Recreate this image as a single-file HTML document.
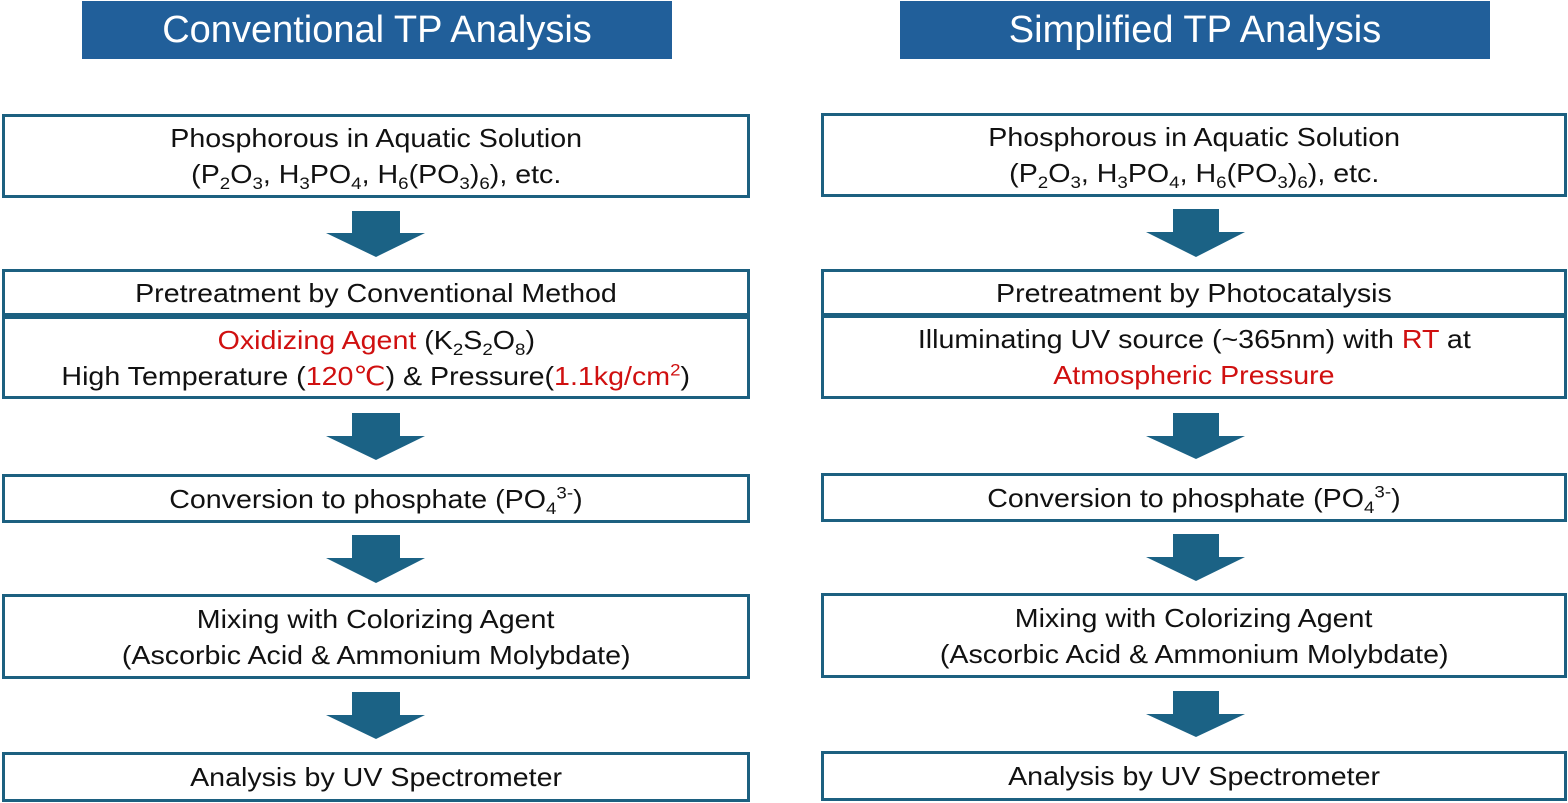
<!DOCTYPE html>
<html><head><meta charset="utf-8"><style>
body{margin:0;width:1568px;height:803px;background:#fff;position:relative;overflow:hidden;font-family:"Liberation Sans",Arial,sans-serif;}
.h{position:absolute;background:#215f9a;color:#fff;font-size:38px;display:flex;align-items:center;justify-content:center;}
.b{position:absolute;box-sizing:border-box;border:3px solid #1c6080;display:flex;flex-direction:column;align-items:center;justify-content:center;font-size:26px;line-height:36px;color:#111;text-align:center;}
.b>div{transform:scaleX(1.1);white-space:nowrap}
.r{color:#d01010}
sub,sup{font-size:17px;line-height:0}
svg{position:absolute;left:0;top:0}
</style></head><body>
<div class="h" style="left:82px;top:1px;width:590px;height:58px">Conventional TP Analysis</div>
<div class="h" style="left:900px;top:1px;width:590px;height:58px">Simplified TP Analysis</div>

<div class="b" style="left:2px;top:114px;width:748px;height:84px"><div>Phosphorous in Aquatic Solution</div><div>(P<sub>2</sub>O<sub>3</sub>, H<sub>3</sub>PO<sub>4</sub>, H<sub>6</sub>(PO<sub>3</sub>)<sub>6</sub>), etc.</div></div>
<div class="b" style="left:2px;top:269px;width:748px;height:47px"><div>Pretreatment by Conventional Method</div></div>
<div class="b" style="left:2px;top:316px;width:748px;height:83px"><div><span class="r">Oxidizing Agent</span> (K<sub>2</sub>S<sub>2</sub>O<sub>8</sub>)</div><div>High Temperature (<span class="r">120℃</span>) &amp; Pressure(<span class="r">1.1kg/cm<sup>2</sup></span>)</div></div>
<div class="b" style="left:2px;top:474px;width:748px;height:49px"><div>Conversion to phosphate (PO<sub>4</sub><sup>3-</sup>)</div></div>
<div class="b" style="left:2px;top:594px;width:748px;height:85px"><div>Mixing with Colorizing Agent</div><div>(Ascorbic Acid &amp; Ammonium Molybdate)</div></div>
<div class="b" style="left:2px;top:752px;width:748px;height:50px"><div>Analysis by UV Spectrometer</div></div>

<div class="b" style="left:821px;top:113px;width:746px;height:84px"><div>Phosphorous in Aquatic Solution</div><div>(P<sub>2</sub>O<sub>3</sub>, H<sub>3</sub>PO<sub>4</sub>, H<sub>6</sub>(PO<sub>3</sub>)<sub>6</sub>), etc.</div></div>
<div class="b" style="left:821px;top:269px;width:746px;height:47px"><div>Pretreatment by Photocatalysis</div></div>
<div class="b" style="left:821px;top:315px;width:746px;height:84px"><div>Illuminating UV source (~365nm) with <span class="r">RT</span> at</div><div class="r">Atmospheric Pressure</div></div>
<div class="b" style="left:821px;top:473px;width:746px;height:49px"><div>Conversion to phosphate (PO<sub>4</sub><sup>3-</sup>)</div></div>
<div class="b" style="left:821px;top:593px;width:746px;height:85px"><div>Mixing with Colorizing Agent</div><div>(Ascorbic Acid &amp; Ammonium Molybdate)</div></div>
<div class="b" style="left:821px;top:751px;width:746px;height:50px"><div>Analysis by UV Spectrometer</div></div>

<svg width="1568" height="803" fill="#1b6285">
<polygon points="352,211 400,211 400,233 425,233 376,257 326,233 352,233"/>
<polygon points="352,413 400,413 400,436 425,436 376,460 326,436 352,436"/>
<polygon points="352,535 400,535 400,558 425,558 376,583 326,558 352,558"/>
<polygon points="352,692 400,692 400,715 425,715 376,739 326,715 352,715"/>
<polygon points="1173,209 1219,209 1219,232 1245,232 1196,257 1146,232 1173,232"/>
<polygon points="1173,413 1219,413 1219,436 1245,436 1196,459 1146,436 1173,436"/>
<polygon points="1173,534 1219,534 1219,557 1245,557 1196,581 1146,557 1173,557"/>
<polygon points="1173,691 1219,691 1219,714 1245,714 1196,737 1146,714 1173,714"/>
</svg>
</body></html>
